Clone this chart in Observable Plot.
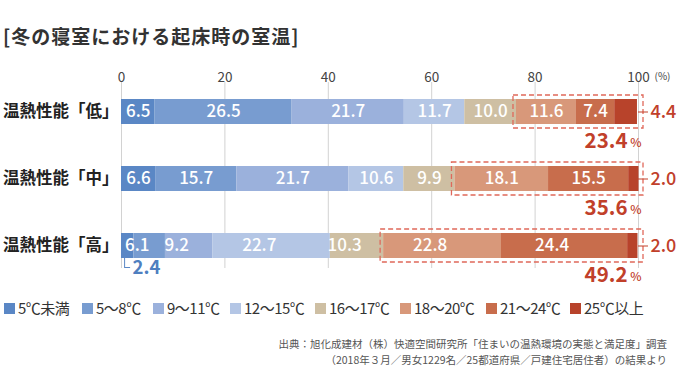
<!DOCTYPE html>
<html><head><meta charset="utf-8">
<script src="https://cdn.jsdelivr.net/npm/d3@7"></script>
<script src="https://cdn.jsdelivr.net/npm/@observablehq/plot@0.6"></script>
<style>
body{margin:0;background:#fff;font-family:"Noto Sans CJK JP","Noto Sans",sans-serif;}
#wrap{position:relative;width:680px;height:387px;overflow:hidden;}
#title{position:absolute;left:3px;top:22px;font-size:19px;font-weight:700;letter-spacing:1px;color:#333;line-height:28px;white-space:nowrap;}
#chart{position:absolute;left:0;top:55px;}
#legend{position:absolute;left:0;top:298px;width:680px;height:20px;}
.li{position:absolute;top:0;display:flex;align-items:center;font-size:15px;color:#333;white-space:nowrap;line-height:20px;letter-spacing:-0.5px;}
.sw{width:11px;height:11px;margin-right:3px;}
#caption{position:absolute;right:13px;top:336px;text-align:right;font-size:10.5px;color:#555;line-height:16px;white-space:nowrap;}
</style></head>
<body><div id="wrap">
<div id="title">[冬の寝室における起床時の室温]</div>
<div id="chart"></div>
<div id="legend"></div>
<div id="caption">出典：旭化成建材（株）快適空間研究所「住まいの温熱環境の実態と満足度」調査<br>（2018年３月／男女1229名／25都道府県／戸建住宅居住者）の結果より</div>
</div>
<script>
const rows = ["温熱性能「低」", "温熱性能「中」", "温熱性能「高」"];
const categories = ["5℃未満", "5～8℃", "9～11℃", "12～15℃", "16～17℃", "18～20℃", "21～24℃", "25℃以上"];
const valuesLow  = [6.5, 26.5, 21.7, 11.7, 10.0, 11.6, 7.4, 4.4];
const valuesMid  = [6.6, 15.7, 21.7, 10.6, 9.9, 18.1, 15.5, 2.0];
const valuesHigh = [2.4, 6.1, 9.2, 22.7, 10.3, 22.8, 24.4, 2.0];
const xTicks = [0, 20, 40, 60, 80, 100];
const colors = ["#5a87c5", "#789cd0", "#9bb1dc", "#b4c6e5", "#cebfa3", "#d8987a", "#c86d4c", "#b8432b"];
const warmStartIndex = 5;

const valueSets = [valuesLow, valuesMid, valuesHigh];
const data = [];
valueSets.forEach((vals, r) => vals.forEach((v, i) => data.push({row: rows[r], cat: categories[i], ci: i, value: v})));

const warm = rows.map((row, r) => {
  const vals = valueSets[r];
  const start = d3.sum(vals.slice(0, warmStartIndex));
  const total = d3.sum(vals.slice(warmStartIndex));
  return {row, start, end: 100, total: total.toFixed(1)};
});

const red = "#c1402a";
const font = "Noto Sans CJK JP";

const inside = data.filter(d => d.ci < 7 && d.value >= 5);
const last = data.filter(d => d.ci === 7);
const tiny = data.filter(d => d.ci < 7 && d.value < 5);

const stackOpts = (extra) => Plot.stackX({x: "value", y: "row", order: null, ...extra});

const chart = Plot.plot({
  width: 680,
  height: 240,
  marginLeft: 121,
  marginRight: 42,
  marginTop: 27,
  marginBottom: 27,
  style: {fontFamily: font, background: "transparent", overflow: "visible"},
  x: {domain: [0, 100], axis: null},
  y: {domain: rows, range: [43.5, 203.5], paddingInner: 0.63, paddingOuter: 0, axis: null},
  color: {domain: categories, range: colors},
  marks: [
    Plot.ruleX(xTicks, {stroke: "#d2d2d2", strokeWidth: 1}),
    Plot.text(xTicks, {x: d => d, text: d => String(d), frameAnchor: "top", dy: -10, fontSize: 13.5, fill: "#444"}),
    Plot.text([100], {x: d => d, text: () => "(%)", frameAnchor: "top", dy: -10, dx: 16, textAnchor: "start", fontSize: 10, fill: "#444"}),
    Plot.text(rows, {y: d => d, text: d => d, frameAnchor: "left", dx: -3, textAnchor: "end", fontSize: 16.5, fontWeight: "bold", fill: "#222"}),
    Plot.barX(data, stackOpts({fill: "cat"})),
    Plot.text(inside, stackOpts({text: d => d.value.toFixed(1), fill: "white", fontSize: 17, fontWeight: 500})),
    Plot.barX(warm, {x1: "start", x2: "end", y: "row", fill: "none", stroke: "#e0685a", strokeWidth: 1.3, strokeDasharray: "5,3", insetTop: -4, insetBottom: -4, insetLeft: -3, insetRight: -5}),
    Plot.ruleY(last, {y: "row", x1: 100, x2: 100, insetRight: -10, stroke: red, strokeWidth: 1}),
    Plot.text(last, {y: "row", x: 100, dx: 12, textAnchor: "start", text: d => d.value.toFixed(1), fill: red, fontSize: 18, fontWeight: 500}),
    Plot.text(warm, {y: "row", x: "end", text: "total", dx: -11, dy: 29, textAnchor: "end", fill: red, fontSize: 20.5, fontWeight: 600}),
    Plot.text(warm, {y: "row", x: "end", text: () => "%", dx: 3, dy: 31, textAnchor: "end", fill: red, fontSize: 12, fontWeight: 500}),
    Plot.tickX(tiny, {x: d => d.value / 4, y: "row", dy: 25, insetTop: 0, insetBottom: 16, stroke: "#5a87c5", strokeWidth: 1}),
    Plot.ruleY(tiny, {y: "row", x1: d => d.value / 4, x2: d => d.value / 4, insetRight: -6, dy: 21.5, stroke: "#5a87c5", strokeWidth: 1}),
    Plot.text(tiny, {y: "row", x: d => d.value / 4, text: d => d.value.toFixed(1), dx: 8, dy: 22, textAnchor: "start", fill: "#4f7fc0", fontSize: 18.5, fontWeight: 600})
  ]
});
document.getElementById("chart").appendChild(chart);

const legendLeft = [4, 82, 153, 230, 315, 400, 486, 570];
const lg = document.getElementById("legend");
categories.forEach((c, i) => {
  const el = document.createElement("div");
  el.className = "li";
  el.style.left = legendLeft[i] + "px";
  el.innerHTML = `<div class="sw" style="background:${colors[i]}"></div><span>${c}</span>`;
  lg.appendChild(el);
});
</script>
</body></html>
